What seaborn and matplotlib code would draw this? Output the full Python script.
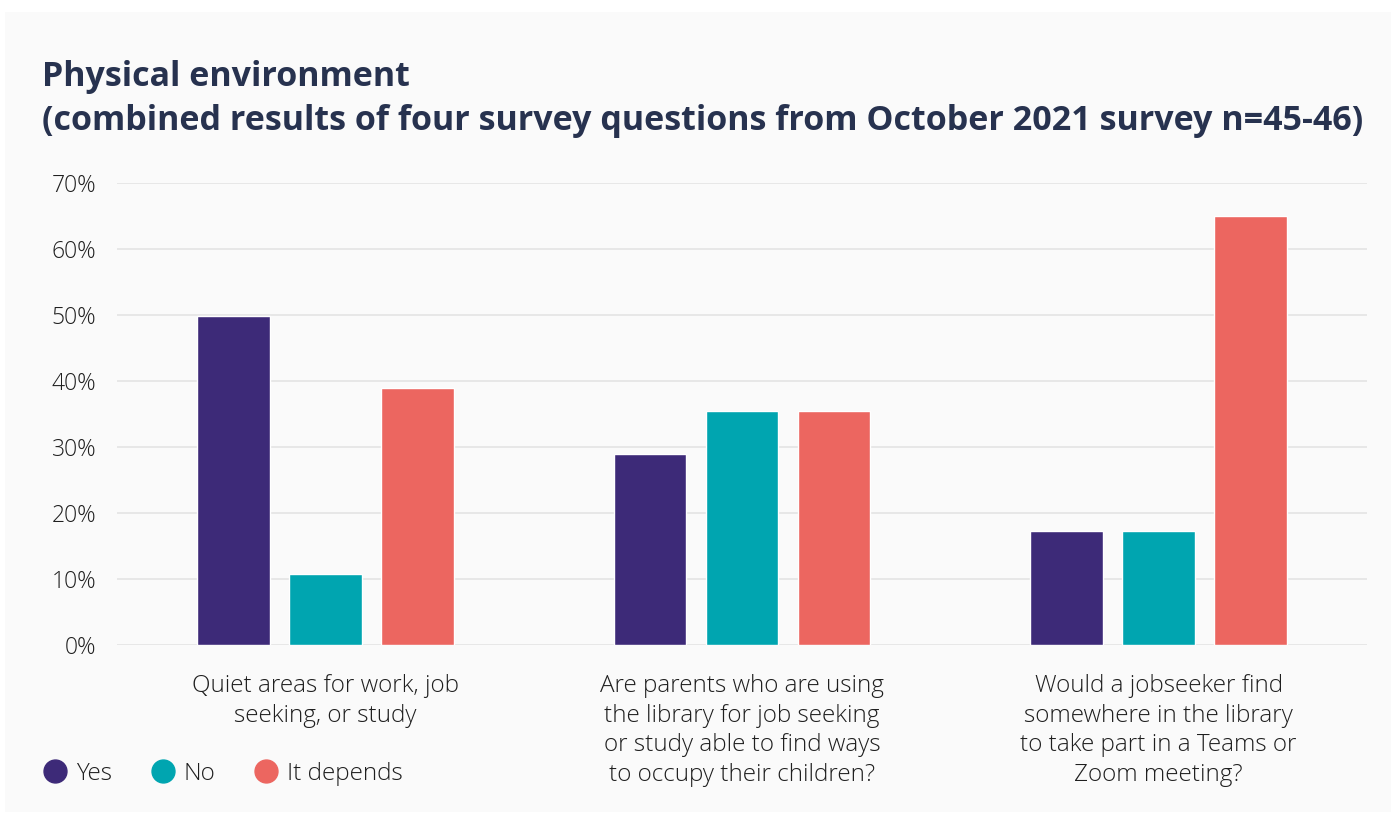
import matplotlib
matplotlib.use("Agg")
import matplotlib.pyplot as plt
import seaborn as sns
import pandas as pd
from matplotlib.patches import Rectangle
from matplotlib.lines import Line2D

questions = [
    "Quiet areas for work, job\nseeking, or study",
    "Are parents who are using\nthe library for job seeking\nor study able to find ways\nto occupy their children?",
    "Would a jobseeker find\nsomewhere in the library\nto take part in a Teams or\nZoom meeting?",
]
answers = ["Yes", "No", "It depends"]
yes_pct = [49.8, 28.9, 17.3]
no_pct = [10.7, 35.5, 17.3]
depends_pct = [39.0, 35.5, 65.0]
colors = ["#3d2a78", "#00a5b0", "#ec6660"]
yticks = [0, 10, 20, 30, 40, 50, 60, 70]

rows = []
for ans, vals in zip(answers, [yes_pct, no_pct, depends_pct]):
    for q, v in zip(questions, vals):
        rows.append({"question": q, "answer": ans, "pct": v})
df = pd.DataFrame(rows)

sns.set_theme(style="white")
plt.rcParams["font.family"] = ["Open Sans", "DejaVu Sans"]

W, H = 1391, 816
fig = plt.figure(figsize=(W / 100, H / 100), dpi=100, facecolor="white")
fig.patches.append(Rectangle((5 / W, 1 - 812 / H), 1386 / W, 800 / H,
                             transform=fig.transFigure, facecolor="#fafafa",
                             edgecolor="none", zorder=-5))

ax = fig.add_axes([117 / W, 1 - 644.7 / H, 1250 / W, (644.7 - 183.3) / H])
ax.patch.set_visible(False)

sns.barplot(data=df, x="question", y="pct", hue="answer", hue_order=answers,
            palette=colors, width=0.663, gap=0.21, ax=ax, legend=False,
            saturation=1, zorder=3)

text_col = "#1f1f1f"
label_size = 17.5
ax.set_xlim(-0.5, 2.5)
ax.set_ylim(0, 70)
ax.set_yticks(yticks)
ax.set_yticklabels([f"{t}%" for t in yticks], fontsize=16.5, color=text_col,
                   fontweight="light")
ax.grid(axis="y", color="#e4e4e4", linewidth=1.2, zorder=0)
ax.set_axisbelow(True)
ax.tick_params(axis="y", length=0, pad=15)
ax.tick_params(axis="x", length=0, pad=21)
for lbl in ax.get_xticklabels():
    lbl.set_fontsize(label_size)
    lbl.set_fontweight("light")
    lbl.set_color(text_col)
    lbl.set_verticalalignment("top")
    lbl.set_linespacing(1.32)
for s in ax.spines.values():
    s.set_visible(False)
ax.set_xlabel("")
ax.set_ylabel("")

fig.text(42 / W, 1 - 86 / H, "Physical environment", fontsize=24.5,
         fontweight="bold", color="#27324f", ha="left", va="baseline")
fig.text(42 / W, 1 - 130 / H,
         "(combined results of four survey questions from October 2021 survey n=45-46)",
         fontsize=24.5, fontweight="bold", color="#27324f", ha="left", va="baseline")

handles = [Line2D([0], [0], marker="o", linestyle="none", markersize=16.5,
                  markerfacecolor=c, markeredgecolor=c) for c in colors]
fig.legend(handles, answers, loc="center left", bbox_to_anchor=(21 / W, 1 - 774 / H),
           ncol=3, frameon=False, handlelength=1.0,
           handletextpad=0.35, columnspacing=1.6, labelcolor=text_col,
           prop={"weight": "light", "size": label_size})

fig.savefig("out.png", dpi=100, facecolor="white")
